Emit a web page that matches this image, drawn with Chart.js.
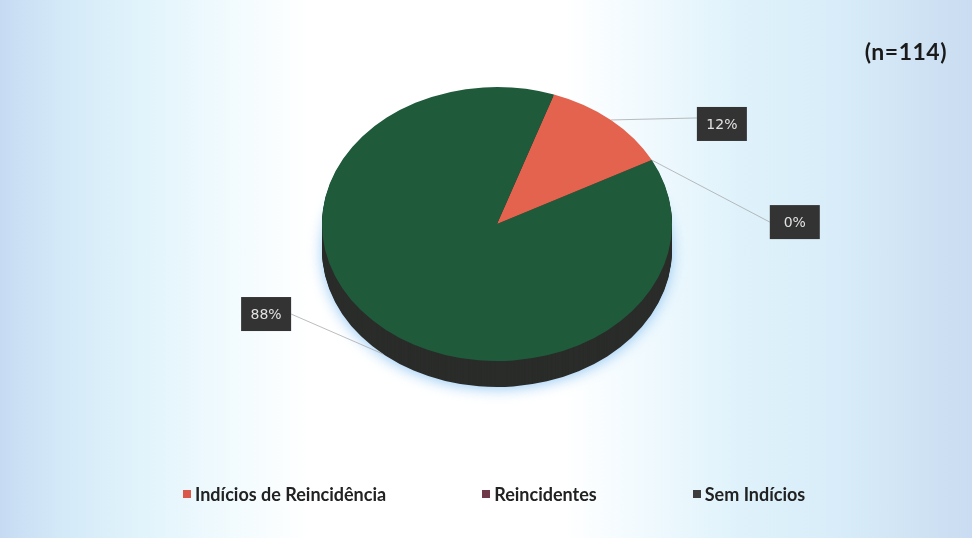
<!DOCTYPE html>
<html>
<head>
<meta charset="utf-8">
<script src="https://cdn.jsdelivr.net/npm/chart.js@4/dist/chart.umd.min.js"></script>
<style>
  html, body { margin: 0; padding: 0; }
  body {
    width: 972px; height: 538px; overflow: hidden; position: relative;
    background:
      linear-gradient(90deg,
        #c6dbf2 0%, #d3e9f8 6%, #e0f3fb 14%, #f2fbfe 24%, #ffffff 32%,
        #ffffff 58%, #f1fafe 66%, #dff2fb 76%, #d8edf9 86%, #cadcf1 100%);
    font-family: Lato, "Open Sans", sans-serif;
  }
  #wrap { position: absolute; left: 0; top: 0; width: 972px; height: 538px; }
  #count {
    position: absolute; right: 25px; top: 37px;
    font: 700 23px Lato, sans-serif; color: #1a1a1a; letter-spacing: 0.5px;
  }
  #legend {
    position: absolute; left: 183px; top: 483px;
    display: flex; gap: 96px; align-items: center;
  }
  .item { display: flex; align-items: center; font: 700 18px Lato, sans-serif; color: #222; }
  .sw { width: 8px; height: 8px; margin-right: 4px; }
</style>
</head>
<body>
<div id="wrap"><canvas id="c" width="972" height="538"></canvas></div>
<div id="count">(n=114)</div>
<div id="legend"></div>
<script>
// Categories and shares (%)
const categories = ['Indícios de Reincidência', 'Reincidentes', 'Sem Indícios'];
const shares = [12, 0, 88];
const percentLabels = ['12%', '0%', '88%'];

// Colours: top faces, side faces, legend swatches
const topColors = ['#e3634e', '#6e3a4a', '#1f5b3b'];
const sideColors = ['#8c3a2d', '#3f2229', '#2a2c2a'];
const swatchColors = ['#d9584a', '#6e3a4a', '#3d3d3d'];

// Tilt and thickness of the disc
const TILT = 0.783;
const DEPTH = 26;
// Where each value box sits relative to its slice's rim point
const boxOffsets = [[111, 4], [143, 62], [-117, -40]];

function rimPoint(arc, angle, front) {
  const x = arc.x + arc.outerRadius * Math.cos(angle);
  const y = arc.y + arc.outerRadius * Math.sin(angle) * TILT + (front ? DEPTH : 0);
  return [x, y];
}

function sector(ctx, arc) {
  ctx.beginPath();
  ctx.moveTo(arc.x, arc.y);
  ctx.arc(arc.x, arc.y, arc.outerRadius, arc.startAngle, arc.endAngle);
  ctx.closePath();
}

const disc3d = {
  id: 'disc3d',
  beforeDatasetsDraw(chart) {
    const ctx = chart.ctx;
    const arcs = chart.getDatasetMeta(0).data;
    // side walls, drawn from the bottom up
    for (let d = DEPTH; d >= 1; d--) {
      arcs.forEach((arc, i) => {
        if (arc.endAngle - arc.startAngle <= 0) return;
        ctx.save();
        ctx.translate(arc.x, arc.y + d);
        ctx.scale(1, TILT);
        ctx.translate(-arc.x, -arc.y);
        if (d === DEPTH) {
          ctx.shadowColor = 'rgba(120,185,240,0.75)';
          ctx.shadowBlur = 14;
          ctx.shadowOffsetY = 2;
        }
        sector(ctx, arc);
        ctx.fillStyle = sideColors[i];
        ctx.fill();
        ctx.restore();
      });
    }
    // top faces
    arcs.forEach((arc, i) => {
      if (arc.endAngle - arc.startAngle <= 0) return;
      ctx.save();
      ctx.translate(arc.x, arc.y);
      ctx.scale(1, TILT);
      ctx.translate(-arc.x, -arc.y);
      sector(ctx, arc);
      ctx.fillStyle = topColors[i];
      ctx.fill();
      ctx.restore();
    });
    return false;
  },
  afterDraw(chart) {
    const ctx = chart.ctx;
    const arcs = chart.getDatasetMeta(0).data;
    arcs.forEach((arc, i) => {
      const mid = (arc.startAngle + arc.endAngle) / 2;
      const front = Math.sin(mid) > 0.3;
      const [px, py] = rimPoint(arc, mid, front);
      const bx = px + boxOffsets[i][0];
      const by = py + boxOffsets[i][1];
      const w = 50, h = 34;
      // leader line from the box to the rim
      const ex = bx + (bx > px ? -w / 2 : w / 2);
      ctx.save();
      ctx.strokeStyle = 'rgba(160,160,160,0.7)';
      ctx.lineWidth = 1;
      ctx.beginPath();
      ctx.moveTo(ex, by - (i === 0 ? 6 : 0));
      ctx.lineTo(px, py);
      ctx.stroke();
      // value box
      ctx.fillStyle = '#333333';
      ctx.fillRect(bx - w / 2, by - h / 2, w, h);
      ctx.fillStyle = '#e2e2e2';
      ctx.font = '14px "DejaVu Sans", sans-serif';
      ctx.textAlign = 'center';
      ctx.textBaseline = 'middle';
      ctx.fillText(percentLabels[i], bx, by + 1);
      ctx.restore();
    });
  }
};

const chart = new Chart(document.getElementById('c'), {
  type: 'pie',
  data: {
    labels: categories,
    datasets: [{ data: shares, backgroundColor: topColors, borderWidth: 0 }]
  },
  options: {
    responsive: false,
    animation: false,
    rotation: 19,
    layout: { padding: { top: 49, bottom: 139, left: 22, right: 0 } },
    plugins: { legend: { display: false }, tooltip: { enabled: false } }
  },
  plugins: [disc3d]
});

// Legend row
const legend = document.getElementById('legend');
categories.forEach((name, i) => {
  const item = document.createElement('div');
  item.className = 'item';
  const sw = document.createElement('span');
  sw.className = 'sw';
  sw.style.background = swatchColors[i];
  const tx = document.createElement('span');
  tx.textContent = name;
  item.appendChild(sw);
  item.appendChild(tx);
  legend.appendChild(item);
});
</script>
</body>
</html>
